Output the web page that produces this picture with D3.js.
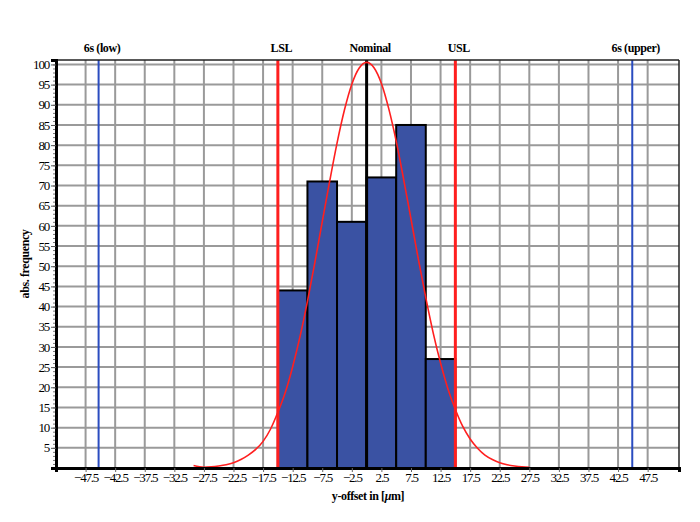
<!DOCTYPE html>
<html><head><meta charset="utf-8">
<script src="https://cdn.jsdelivr.net/npm/d3@7"></script>
<style>
body{margin:0;background:#fff;}
text{font-family:"Liberation Serif","Times New Roman",serif;}
</style></head>
<body><svg id="c" width="700" height="522"></svg>
<script>
// ---- data ----
const binStarts = [-15, -10, -5, 0, 5, 10];
const binWidth = 5;
const binCounts = [44, 71, 61, 72, 85, 27];
const xTickValues = [-47.5,-42.5,-37.5,-32.5,-27.5,-22.5,-17.5,-12.5,-7.5,-2.5,2.5,7.5,12.5,17.5,22.5,27.5,32.5,37.5,42.5,47.5];
const yTickValues = [5,10,15,20,25,30,35,40,45,50,55,60,65,70,75,80,85,90,95,100];
const curveX = [-29.25,-27.5,-26.25,-25,-23.75,-22.5,-21.25,-20,-18.75,-17.5,-16.25,-15,-13.75,-12.5,-11.25,-10,-8.75,-7.5,-6.25,-5,-3.75,-2.5,-1.25,0,1.25,2.5,3.75,5,6.25,7.5,8.75,10,11.25,12.5,13.75,15,16.25,17.5,18.75,20,21.25,22.5,23.75,25,26.25,27.5];
const curveY = [0.6,0.2,0.3,0.5,0.8,1.3,2.1,3.2,4.6,6.6,9.6,13.8,18.7,25.1,32.6,41.3,50.9,61.0,71.0,80.5,88.7,95.1,99.1,100.5,99.2,95.3,89.0,81.0,71.6,61.7,51.7,42.2,33.5,26.0,19.6,14.5,10.3,7.2,4.9,3.2,2.1,1.3,0.8,0.5,0.3,0.2];
const refNames = ["6s (low)", "LSL", "Nominal", "USL", "6s (upper)"];
const refValues = [-45.3, -15, 0, 15, 44.9];
const refKinds = ["sigma", "limit", "nominal", "limit", "sigma"];
const xTitle = "y-offset in [";
const yTitle = "abs. frequency";

// ---- layout ----
const W = 700, H = 522;
const m = {left: 56, right: 21, top: 60, bottom: 54};
const svg = d3.select("#c");
const x = d3.scaleLinear().domain([-52.5, 52.8]).range([m.left, W - m.right]);
const y = d3.scaleLinear().domain([0, 101.1]).range([H - m.bottom, m.top]);
const x0 = m.left, x1 = W - m.right, y0 = H - m.bottom, y1 = m.top;

// grid
const grid = svg.append("g");
grid.selectAll("line.v").data(xTickValues).join("line")
  .attr("x1", d => x(d)).attr("x2", d => x(d)).attr("y1", y1).attr("y2", y0)
  .attr("stroke", "#9a9a9a").attr("stroke-width", 2);
grid.selectAll("line.h").data(yTickValues).join("line")
  .attr("x1", x0).attr("x2", x1).attr("y1", d => y(d)).attr("y2", d => y(d))
  .attr("stroke", "#9a9a9a").attr("stroke-width", 2);

// bars
svg.append("g").selectAll("rect").data(binCounts).join("rect")
  .attr("x", (d, i) => x(binStarts[i]))
  .attr("width", (d, i) => x(binStarts[i] + binWidth) - x(binStarts[i]))
  .attr("y", d => y(d))
  .attr("height", d => y(0) - y(d))
  .attr("fill", "#3a52a3").attr("stroke", "#000").attr("stroke-width", 2);

// reference lines
const refColor = {sigma: "#2a4cc0", limit: "#ff1f1f", nominal: "#000"};
const refWidth = {sigma: 2, limit: 3, nominal: 3};
svg.append("g").selectAll("line").data(refValues).join("line")
  .attr("x1", d => x(d)).attr("x2", d => x(d)).attr("y1", y1).attr("y2", y0)
  .attr("stroke", (d, i) => refColor[refKinds[i]])
  .attr("stroke-width", (d, i) => refWidth[refKinds[i]]);

// curve
const line = d3.line().x(d => x(d[0])).y(d => y(d[1])).curve(d3.curveMonotoneX);
svg.append("path").datum(curveX.map((v, i) => [v, curveY[i]]))
  .attr("d", line).attr("fill", "none").attr("stroke", "#ff1f1f").attr("stroke-width", 1.6);

// frame
svg.append("line").attr("x1", x0).attr("x2", x1).attr("y1", y1).attr("y2", y1).attr("stroke", "#222").attr("stroke-width", 1.5);
svg.append("line").attr("x1", x1).attr("x2", x1).attr("y1", y1).attr("y2", y0).attr("stroke", "#222").attr("stroke-width", 1.5);

// axes
const xAxis = d3.axisBottom(x).tickValues(xTickValues).tickSize(4).tickFormat(d3.format(".1f"));
const gx = svg.append("g").attr("transform", `translate(0,${y0})`).call(xAxis);
gx.select(".domain").attr("stroke", "#000").attr("stroke-width", 3);
gx.selectAll(".tick line").attr("stroke", "#666");
gx.selectAll(".tick text").attr("font-size", 13).attr("font-family", "Liberation Serif").attr("letter-spacing", "-1.2px").attr("fill", "#000").attr("dy", "0.5em");

const yMinor = d3.range(1, 101);
const gyMinor = svg.append("g").attr("transform", `translate(${x0},0)`)
  .call(d3.axisLeft(y).tickValues(yMinor).tickSize(3).tickFormat(""));
gyMinor.select(".domain").remove();
gyMinor.selectAll(".tick line").attr("stroke", "#777");

const gy = svg.append("g").attr("transform", `translate(${x0},0)`)
  .call(d3.axisLeft(y).tickValues(yTickValues).tickSize(5).tickPadding(2));
gy.select(".domain").attr("stroke", "#000").attr("stroke-width", 3);
gy.selectAll(".tick line").attr("stroke", "#555");
gy.selectAll(".tick text").attr("font-size", 13).attr("font-family", "Liberation Serif").attr("letter-spacing", "-1.2px").attr("fill", "#000");

// top labels
svg.append("g").selectAll("text").data(refNames).join("text")
  .attr("x", (d, i) => x(refValues[i]) + 3.5).attr("y", 52)
  .attr("text-anchor", "middle").attr("font-weight", "bold").attr("font-size", 12)
  .attr("letter-spacing", "-0.4px").text(d => d);

// axis titles
const xt = svg.append("text").attr("x", 368).attr("y", 500).attr("text-anchor", "middle")
  .attr("font-weight", "bold").attr("font-size", 12).attr("letter-spacing", "-0.4px");
xt.append("tspan").text(xTitle);
xt.append("tspan").attr("font-style", "italic").text("\u03bc");
xt.append("tspan").text("m]");
svg.append("text").attr("transform", `translate(29,${(y0 + y1) / 2}) rotate(-90)`)
  .attr("text-anchor", "middle").attr("font-weight", "bold").attr("font-size", 12)
  .attr("letter-spacing", "-0.4px").text(yTitle);
</script></body></html>
